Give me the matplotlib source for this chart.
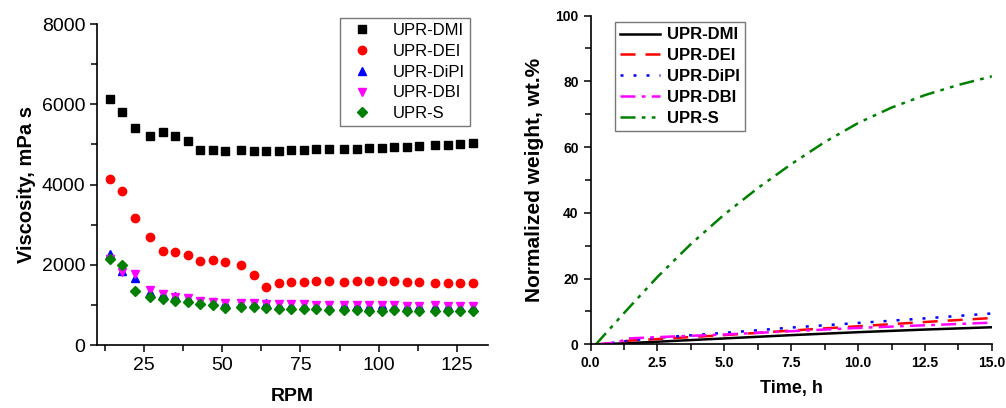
import matplotlib
matplotlib.use("Agg")
import matplotlib.pyplot as plt
from matplotlib.ticker import MultipleLocator

plt.rcParams.update({"font.family": ["Liberation Sans", "DejaVu Sans"], "axes.linewidth": 1.2})

# viscosity vs RPM
rpm = [14, 18, 22, 27, 31, 35, 39, 43, 47, 51, 56, 60, 64, 68, 72, 76, 80, 84, 89, 93,
       97, 101, 105, 109, 113, 118, 122, 126, 130]
visc_dmi = [6130, 5815, 5415, 5210, 5300, 5210, 5090, 4860, 4875, 4840, 4865, 4835, 4840, 4840,
            4860, 4865, 4885, 4885, 4890, 4890, 4900, 4900, 4925, 4925, 4960, 4975, 4985, 5015, 5040]
visc_dei = [4150, 3835, 3165, 2690, 2335, 2315, 2240, 2100, 2115, 2065, 1990, 1750, 1440, 1540,
            1585, 1585, 1610, 1610, 1585, 1610, 1610, 1610, 1600, 1575, 1575, 1550, 1550, 1550, 1550]
visc_dipi = [2260, 1850, 1680, 1330, 1280, 1220, 1180, 1110, 1070, 1050, 1050, 1040, 1060, 1000,
             1010, 1000, 990, 980, 990, 990, 980, 990, 980, 970, 970, 980, 970, 960, 960]
visc_dbi = [2150, 1830, 1775, 1375, 1265, 1210, 1165, 1100, 1065, 1040, 1050, 1040, 1025, 1015,
            1025, 1025, 1010, 990, 1000, 1000, 990, 1000, 990, 985, 985, 990, 985, 975, 975]
visc_s = [2150, 2000, 1360, 1200, 1140, 1100, 1065, 1015, 990, 935, 950, 940, 935, 910,
          910, 900, 890, 875, 865, 885, 860, 860, 875, 850, 850, 860, 860, 850, 850]

# normalized weight vs time
t_dmi = [0.3, 1.2, 2.5, 5, 7.5, 10, 12.5, 15]
w_dmi = [0, 0.3, 0.8, 1.8, 2.8, 3.7, 4.5, 5.2]
t_dei = [0.3, 1.0, 1.5, 2.5, 3.5, 5, 7.5, 10, 12.5, 15]
w_dei = [0, 0.5, 1.2, 1.6, 2.1, 2.8, 4.2, 5.5, 6.8, 8.0]
t_dipi = [0.3, 1.0, 1.5, 2.5, 5, 7.5, 10, 12.5, 15]
w_dipi = [0, 0.6, 1.2, 2.0, 3.5, 5.1, 6.5, 7.9, 9.4]
t_dbi = [0.3, 1.0, 1.4, 2.5, 5, 7.5, 10, 12.5, 15]
w_dbi = [0, 0.6, 1.8, 2.2, 3.0, 4.0, 5.0, 5.8, 6.6]
t_s = [0.2, 1.25, 2.5, 3.75, 5, 6.25, 7.5, 8.75, 10, 11.25, 12.5, 13.75, 15]
w_s = [0, 9.5, 20.5, 30.5, 39.5, 47.5, 54.8, 61.5, 67.3, 72, 75.8, 78.9, 81.5]

fig = plt.figure(figsize=(10.06, 4.08), dpi=100)
ax1 = fig.add_axes([0.0964, 0.154, 0.389, 0.787])
ax2 = fig.add_axes([0.587, 0.156, 0.399, 0.806])

ms = 5.5
ax1.plot(rpm, visc_dmi, "s", color="black", ms=ms, label="UPR-DMI")
ax1.plot(rpm, visc_dei, "o", color="#ff0000", ms=ms + 0.5, label="UPR-DEI")
ax1.plot(rpm, visc_dipi, "^", color="#0000ff", ms=ms + 0.5, label="UPR-DiPI")
ax1.plot(rpm, visc_dbi, "v", color="#ff00ff", ms=ms + 0.5, label="UPR-DBI")
ax1.plot(rpm, visc_s, "D", color="#008000", ms=ms - 0.5, label="UPR-S")
ax1.set_xlim(10, 135)
ax1.set_ylim(0, 8000)
ax1.xaxis.set_major_locator(MultipleLocator(25))
ax1.xaxis.set_minor_locator(MultipleLocator(12.5))
ax1.yaxis.set_major_locator(MultipleLocator(2000))
ax1.yaxis.set_minor_locator(MultipleLocator(1000))
ax1.tick_params(labelsize=14, direction="out", length=5, width=1.1)
ax1.tick_params(which="minor", direction="out", length=4, width=1.1)
ax1.set_xlabel("RPM", fontsize=14, fontweight="bold", labelpad=10)
ax1.set_ylabel("Viscosity, mPa s", fontsize=14.5, fontweight="bold", labelpad=4)
leg1 = ax1.legend(loc="upper right", bbox_to_anchor=(0.954, 1.019), borderaxespad=0,
                  fontsize=12, frameon=True, fancybox=False, edgecolor="#555555",
                  borderpad=0.3, handletextpad=0.9, labelspacing=0.35)
leg1.get_frame().set_linewidth(1.0)

lw = 1.8
ax2.plot(t_dmi, w_dmi, "-", color="black", lw=lw, label="UPR-DMI")
ax2.plot(t_dei, w_dei, color="#ff0000", lw=lw, dashes=(6, 4), label="UPR-DEI")
ax2.plot(t_dipi, w_dipi, color="#0000ff", lw=lw, dashes=(1.2, 4), label="UPR-DiPI")
ax2.plot(t_dbi, w_dbi, color="#ff00ff", lw=lw, dashes=(6, 2.5, 1.5, 2.5), label="UPR-DBI")
ax2.plot(t_s, w_s, color="#008000", lw=lw, dashes=(6, 2.5, 1.5, 2.5, 1.5, 2.5), label="UPR-S")
ax2.set_xlim(0, 15)
ax2.set_ylim(0, 100)
ax2.xaxis.set_major_locator(MultipleLocator(2.5))
ax2.xaxis.set_minor_locator(MultipleLocator(1.25))
ax2.yaxis.set_major_locator(MultipleLocator(20))
ax2.yaxis.set_minor_locator(MultipleLocator(10))
ax2.set_xticks(ax2.get_xticks())
ax2.set_xticklabels([f"{v:.1f}" for v in ax2.get_xticks()])
ax2.set_xlim(0, 15)
ax2.tick_params(labelsize=10, direction="out", length=5, width=1.1)
ax2.tick_params(which="minor", direction="out", length=4, width=1.1)
for lab in ax2.get_xticklabels() + ax2.get_yticklabels():
    lab.set_fontweight("bold")
ax2.set_xlabel("Time, h", fontsize=13, fontweight="bold", labelpad=7)
ax2.set_ylabel("Normalized weight, wt.%", fontsize=15, fontweight="bold", labelpad=8)
leg2 = ax2.legend(loc="upper left", bbox_to_anchor=(0.062, 0.979), borderaxespad=0,
                  prop={"weight": "bold", "size": 12}, frameon=True, fancybox=False,
                  edgecolor="#555555", borderpad=0.3, handlelength=2.4,
                  handletextpad=0.4, labelspacing=0.35)
leg2.get_frame().set_linewidth(1.0)

for ax in (ax1, ax2):
    for s in ("top", "right"):
        ax.spines[s].set_visible(False)

fig.savefig("out.png", dpi=100)
